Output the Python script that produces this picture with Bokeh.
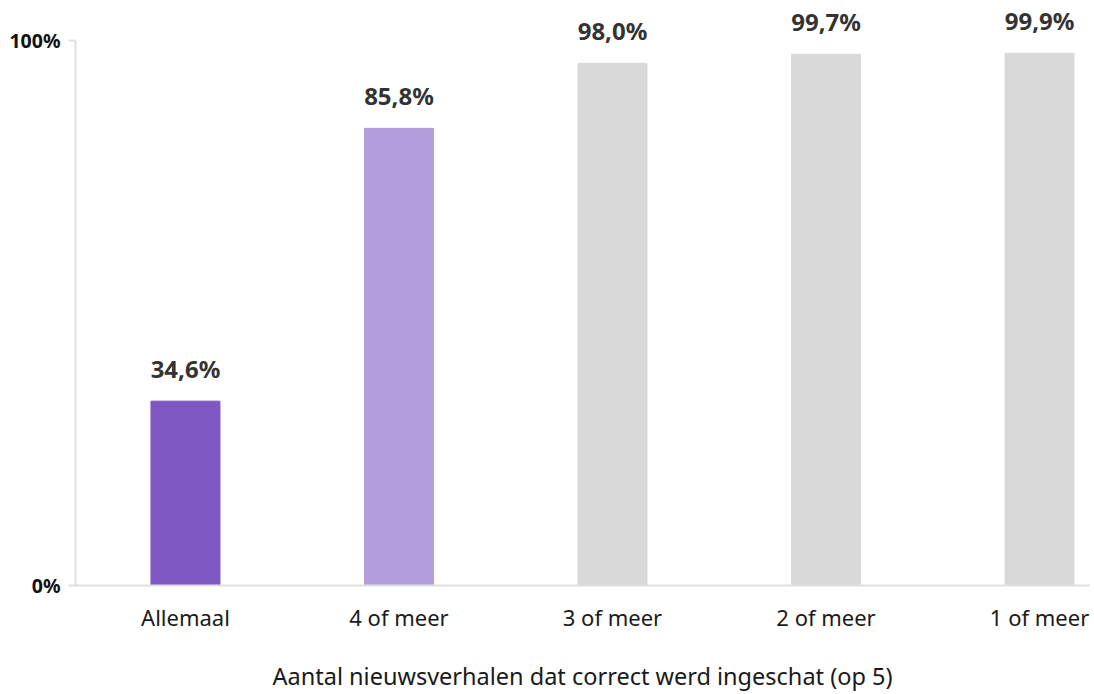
from bokeh.plotting import figure
from bokeh.models import ColumnDataSource, FixedTicker, LabelSet, Range1d, CustomJSTickFormatter
from bokeh.core.properties import value
from bokeh.embed import file_html
from bokeh.resources import INLINE

categories = ["Allemaal", "4 of meer", "3 of meer", "2 of meer", "1 of meer"]
values = [34.6, 85.8, 98.0, 99.7, 99.9]
labels = ["34,6%", "85,8%", "98,0%", "99,7%", "99,9%"]
colors = ["#7E57C2", "#B39DDB", "#D9D9D9", "#D9D9D9", "#D9D9D9"]
y_axis_max = 102.3
y_view_max = 109.8
y_tick_labels = ["0%", "100%"]
x_title = "Aantal nieuwsverhalen dat correct werd ingeschat (op 5)"

xs = list(range(len(categories)))
src = ColumnDataSource(dict(x=xs, top=values, label=labels, color=colors))

p = figure(width=1094, height=694, output_backend="svg", toolbar_location=None,
           x_range=Range1d(-0.515, 4.234), y_range=Range1d(0, y_view_max),
           min_border_left=75, min_border_right=5, min_border_top=0, min_border_bottom=92)
p.outline_line_color = None
p.grid.visible = False
p.background_fill_color = "white"
p.border_fill_color = "white"

p.vbar(x="x", top="top", width=0.323, bottom=0, color="color", source=src)

lbl = LabelSet(x="x", y="top", text="label", source=src, text_align="center",
               text_baseline="alphabetic", y_offset=23, text_font=value("Noto Sans"),
               text_font_style="bold", text_font_size="24px", text_color="#333333")
p.add_layout(lbl)

xa = p.xaxis[0]
xa.ticker = FixedTicker(ticks=xs)
xa.major_label_overrides = {i: c for i, c in enumerate(categories)}
xa.axis_line_color = "#E0E0E0"
xa.axis_line_width = 2
xa.major_tick_line_color = None
xa.minor_tick_line_color = None
xa.major_label_standoff = 10
xa.major_label_text_font = "Noto Sans"
xa.major_label_text_font_size = "22px"
xa.major_label_text_color = "#1a1a1a"
xa.axis_label = x_title
xa.axis_label_text_font = "Noto Sans"
xa.axis_label_text_font_style = "normal"
xa.axis_label_text_font_size = "23.5px"
xa.axis_label_text_color = "#1a1a1a"
xa.axis_label_standoff = 25

ya = p.yaxis[0]
ya.bounds = (0, y_axis_max)
ya.ticker = FixedTicker(ticks=[0, y_axis_max])
ya.formatter = CustomJSTickFormatter(args=dict(lab=y_tick_labels),
                                     code="return tick <= 0 ? lab[0] : lab[1];")
ya.axis_line_color = "#E0E0E0"
ya.axis_line_width = 2
ya.major_tick_line_color = "#E0E0E0"
ya.major_tick_line_width = 2
ya.major_tick_out = 7
ya.major_tick_in = 0
ya.minor_tick_line_color = None
ya.major_label_standoff = 8
ya.major_label_text_font = "Noto Sans"
ya.major_label_text_font_style = "bold"
ya.major_label_text_font_size = "19.5px"
ya.major_label_text_color = "#111111"

open("out.html", "w").write(file_html(p, INLINE))
